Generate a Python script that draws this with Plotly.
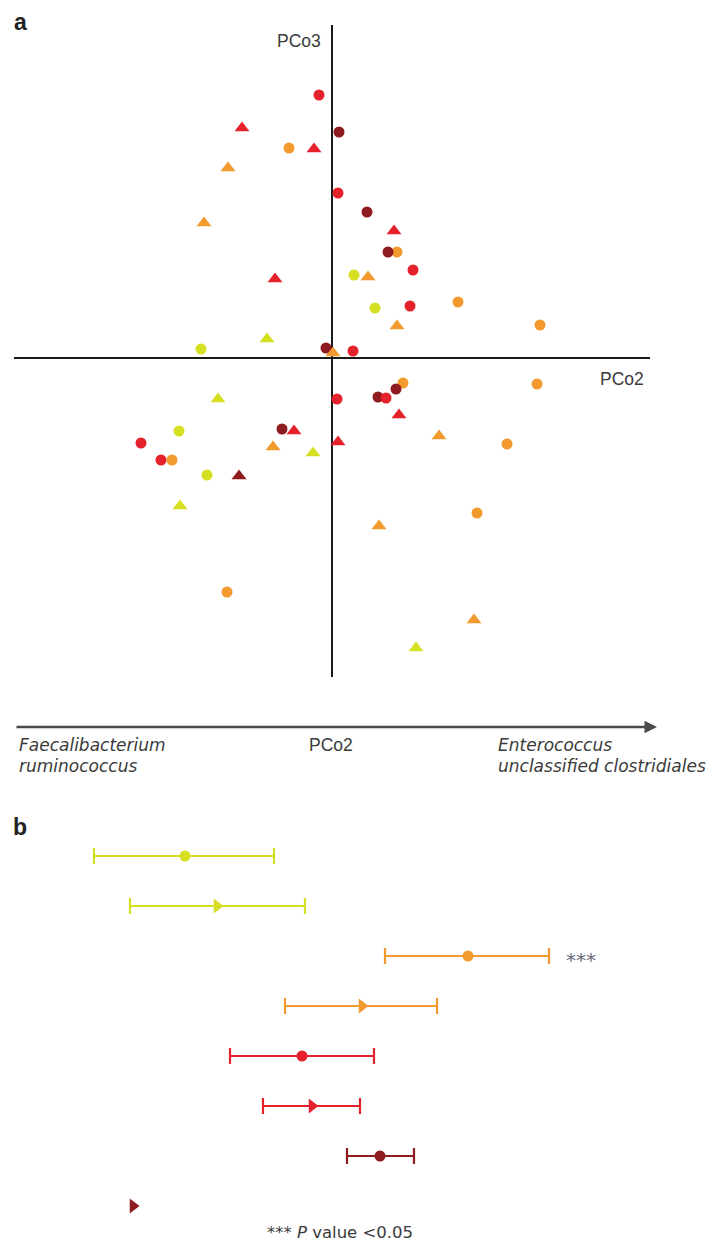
import plotly.graph_objects as go

# Page body has an 8px margin; figure is sized to fit the 721x1243 window exactly.
PAGE_MARGIN = 8
W, H = 721 - PAGE_MARGIN, 1243 - PAGE_MARGIN

# ---------------- Panel a data: PCo2 (x) vs PCo3 (y) ----------------
yellow_circle_x = [0.022, 0.043, -0.131, -0.153, -0.125]
yellow_circle_y = [0.083, 0.050, 0.009, -0.073, -0.117]
yellow_tri_x = [-0.065, -0.114, -0.019, -0.152, 0.084]
yellow_tri_y = [0.019, -0.041, -0.095, -0.148, -0.290]
orange_circle_x = [-0.043, 0.065, 0.126, 0.208, 0.071, 0.205, 0.175, -0.160, 0.145, -0.105]
orange_circle_y = [0.210, 0.106, 0.056, 0.033, -0.025, -0.026, -0.086, -0.102, -0.155, -0.234]
orange_tri_x = [-0.104, -0.128, 0.036, 0.065, -0.059, 0.107, 0.047, 0.142, 0.001]
orange_tri_y = [0.190, 0.135, 0.081, 0.032, -0.089, -0.078, -0.168, -0.262, 0.005]
red_circle_x = [-0.013, 0.006, 0.081, 0.078, 0.021, 0.005, 0.054, -0.191, -0.171]
red_circle_y = [0.263, 0.165, 0.088, 0.052, 0.007, -0.041, -0.040, -0.085, -0.102]
red_tri_x = [-0.090, -0.018, 0.062, -0.057, -0.038, 0.006, 0.067]
red_tri_y = [0.230, 0.209, 0.127, 0.079, -0.073, -0.084, -0.057]
darkred_circle_x = [0.007, 0.035, 0.056, -0.006, 0.064, 0.046, -0.050]
darkred_circle_y = [0.226, 0.146, 0.106, 0.010, -0.031, -0.039, -0.071]
darkred_tri_x = [-0.093]
darkred_tri_y = [-0.118]

# ---------------- Panel b data: mean PCo2 with interval ----------------
b_rows = [1, 2, 3, 4, 5, 6, 7, 8]
b_mean = [-0.147, -0.115, 0.136, 0.030, -0.030, -0.020, 0.048, -0.199]
b_low = [-0.238, -0.202, 0.053, -0.047, -0.102, -0.069, 0.015, -0.199]
b_high = [-0.058, -0.027, 0.217, 0.105, 0.042, 0.028, 0.082, -0.199]
b_group = ["yellow", "yellow", "orange", "orange", "red", "red", "darkred", "darkred"]
b_shape = ["circle", "triangle", "circle", "triangle", "circle", "triangle", "circle", "triangle"]
b_signif = ["", "", "***", "", "", "", "", ""]

COLORS = {"yellow": "#d6df22", "orange": "#f29a2e", "red": "#e5222b", "darkred": "#8e1b1f"}
SANS = "Liberation Sans, Arial, sans-serif"
WIDE = "DejaVu Sans, Verdana, sans-serif"

fig = go.Figure()

def px_x(p):
    return (p - PAGE_MARGIN) / W

def px_y(p):
    return 1 - (p - PAGE_MARGIN) / H

series_a = [
    ("yellow", "circle", yellow_circle_x, yellow_circle_y),
    ("yellow", "triangle", yellow_tri_x, yellow_tri_y),
    ("orange", "circle", orange_circle_x, orange_circle_y),
    ("darkred", "circle", darkred_circle_x, darkred_circle_y),
    ("orange", "triangle", orange_tri_x, orange_tri_y),
    ("red", "circle", red_circle_x, red_circle_y),
    ("red", "triangle", red_tri_x, red_tri_y),
    ("darkred", "triangle", darkred_tri_x, darkred_tri_y),
]
for grp, shp, xs, ys in series_a:
    fig.add_trace(go.Scatter(
        x=xs, y=ys, mode="markers", name=f"{grp} {shp}", showlegend=False,
        marker=dict(color=COLORS[grp], size=11 if shp == "circle" else 13,
                    symbol="circle" if shp == "circle" else "triangle-up",
                    line=dict(width=0)),
        xaxis="x", yaxis="y"))

for i in range(len(b_rows)):
    err_plus = b_high[i] - b_mean[i]
    err_minus = b_mean[i] - b_low[i]
    has_err = err_plus > 0 or err_minus > 0
    fig.add_trace(go.Scatter(
        x=[b_mean[i]], y=[b_rows[i]], mode="markers", showlegend=False,
        name=f"{b_group[i]} {b_shape[i]}",
        marker=dict(color=COLORS[b_group[i]], size=11 if b_shape[i] == "circle" else 13,
                    symbol="circle" if b_shape[i] == "circle" else "triangle-right",
                    line=dict(width=0)),
        error_x=dict(type="data", symmetric=False, array=[err_plus], arrayminus=[err_minus],
                     color=COLORS[b_group[i]], thickness=2.2, width=8, visible=has_err),
        xaxis="x2", yaxis="y2"))
    if b_signif[i]:
        fig.add_annotation(x=b_high[i], y=b_rows[i], xref="x2", yref="y2", text=b_signif[i],
                           showarrow=False, xanchor="left", xshift=15, yshift=-4,
                           font=dict(size=20, color="#6a6a7a", family=WIDE))

fig.update_layout(
    width=W, height=H, margin=dict(l=0, r=0, t=0, b=0),
    paper_bgcolor="white", plot_bgcolor="white",
    font=dict(family=SANS, color="#3a3a3a"),
    xaxis=dict(domain=[px_x(14), px_x(650)], range=[-0.318, 0.318], showgrid=False,
               showticklabels=False, ticks="", zeroline=True, zerolinecolor="#1a1a1a",
               zerolinewidth=2, showline=False),
    yaxis=dict(domain=[px_y(677), px_y(25)], range=[-0.319, 0.333], showgrid=False,
               showticklabels=False, ticks="", zeroline=True, zerolinecolor="#1a1a1a",
               zerolinewidth=2, showline=False),
    xaxis2=dict(domain=[px_x(14), px_x(650)], range=[-0.318, 0.318], showgrid=False,
                showticklabels=False, ticks="", zeroline=False, showline=False, anchor="y2"),
    yaxis2=dict(domain=[px_y(1231), px_y(831)], range=[8.5, 0.5], showgrid=False,
                showticklabels=False, ticks="", zeroline=False, showline=False, anchor="x2"),
)

ann = [
    dict(text="<b>a</b>", x=px_x(12), y=px_y(22), xanchor="left", font=dict(size=23, color="#222")),
    dict(text="<b>b</b>", x=px_x(11), y=px_y(827), xanchor="left", font=dict(size=23, color="#222")),
    dict(text="PCo3", x=px_x(323), y=px_y(41), xanchor="right", font=dict(size=17.5)),
    dict(text="PCo2", x=px_x(646), y=px_y(379), xanchor="right", font=dict(size=17.5)),
    dict(text="<i>Faecalibacterium</i>", x=px_x(17), y=px_y(745), xanchor="left",
         font=dict(size=17, family=WIDE)),
    dict(text="<i>ruminococcus</i>", x=px_x(17), y=px_y(766), xanchor="left",
         font=dict(size=17, family=WIDE)),
    dict(text="PCo2", x=px_x(331), y=px_y(745), xanchor="center", font=dict(size=17.5)),
    dict(text="<i>Enterococcus</i>", x=px_x(496), y=px_y(745), xanchor="left",
         font=dict(size=17, family=WIDE)),
    dict(text="<i>unclassified clostridiales</i>", x=px_x(496), y=px_y(766), xanchor="left",
         font=dict(size=17, family=WIDE)),
    dict(text="*** <i>P</i> value &lt;0.05", x=px_x(340), y=px_y(1232), xanchor="center",
         font=dict(size=16.5, family=WIDE)),
]
for a in ann:
    fig.add_annotation(xref="paper", yref="paper", showarrow=False, yanchor="middle", **a)

# PCo2 direction arrow
fig.add_annotation(xref="paper", yref="paper", axref="pixel", ayref="pixel",
                   x=px_x(657), y=px_y(727), ax=-(657 - 15), ay=0,
                   showarrow=True, arrowhead=2, arrowsize=1.0, arrowwidth=2.5,
                   arrowcolor="#4a4a4a", text="")

fig.write_html("out.html")
